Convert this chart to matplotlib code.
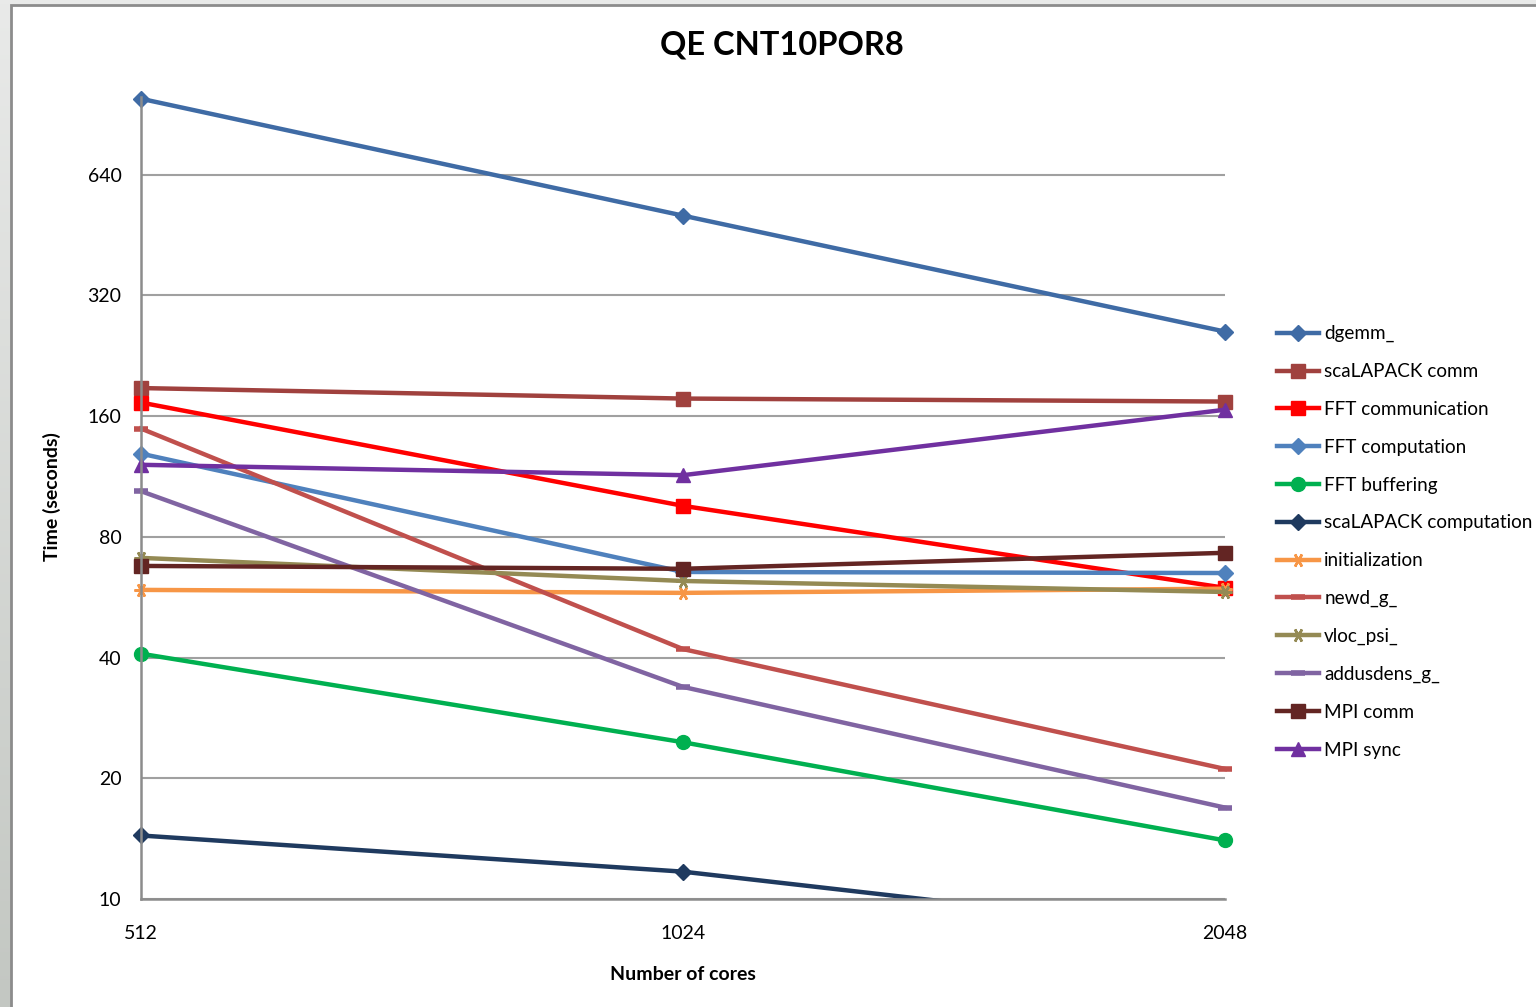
import matplotlib
matplotlib.use("Agg")
import matplotlib.pyplot as plt
import numpy as np
from matplotlib.patches import Rectangle
from matplotlib.ticker import FixedLocator, NullLocator
from matplotlib.colors import LinearSegmentedColormap

plt.rcParams['font.family'] = ['Lato', 'DejaVu Sans']

cores = [512, 1024, 2048]
series_names = ["dgemm_", "scaLAPACK comm", "FFT communication", "FFT computation",
                "FFT buffering", "scaLAPACK computation", "initialization", "newd_g_",
                "vloc_psi_", "addusdens_g_", "MPI comm", "MPI sync"]
dgemm = [990, 506, 260]
scalapack_comm = [188, 177, 174]
fft_comm = [173, 95.6, 59.7]
fft_comp = [129, 65.4, 65.0]
fft_buf = [40.9, 24.6, 14.0]
scalapack_comp = [14.4, 11.7, 8.2]
initialization = [59.0, 58.0, 59.4]
newd_g = [149, 42.0, 21.1]
vloc_psi = [70.9, 62.1, 58.3]
addusdens_g = [104, 33.8, 16.9]
mpi_comm = [67.7, 66.6, 73.0]
mpi_sync = [121, 114, 166]
yticks = [10, 20, 40, 80, 160, 320, 640]

values = [dgemm, scalapack_comm, fft_comm, fft_comp, fft_buf, scalapack_comp,
          initialization, newd_g, vloc_psi, addusdens_g, mpi_comm, mpi_sync]
colors = ["#3F6BA5", "#A0413E", "#FF0000", "#4F81BD", "#00B050", "#1F3A5F",
          "#F79646", "#C0504D", "#948A54", "#8064A2", "#632523", "#7030A0"]
star = (6, 2, 90)
markers = ["D", "s", "s", "D", "o", "D", star, "_", star, "_", "s", "^"]
msizes = [8, 10, 10, 8, 10, 8, 10, 10, 10, 10, 10, 10]

W, H = 1536, 1007
fig = plt.figure(figsize=(W / 100, H / 100), dpi=100)

# background gradient + white chart area
bg = fig.add_axes([0, 0, 1, 1], zorder=-5)
grad = np.linspace(0, 1, 256).reshape(-1, 1)
cm = LinearSegmentedColormap.from_list("g", ["#E9EAE9", "#C3C7C2"])
bg.imshow(grad, aspect='auto', cmap=cm, extent=[0, 1, 0, 1], origin='upper')
bg.add_patch(Rectangle((11 / W, -0.01), 1.05, 1 - 5 / H + 0.01, facecolor='white',
                       edgecolor='#8C8C8C', linewidth=2))
bg.set_xlim(0, 1)
bg.set_ylim(0, 1)
bg.axis('off')

left, right = 141 / W, 1225 / W
bottom, top = 1 - 899 / H, 1 - 97 / H
ax = fig.add_axes([left, bottom, right - left, top - bottom])
ax.set_facecolor('none')

clip = Rectangle((-0.1, 0), 1.2, 1.2, transform=ax.transAxes, visible=False)
ax.add_patch(clip)

for name, vals, c, m, ms in zip(series_names, values, colors, markers, msizes):
    mew = 4 if m == "_" else (1.8 if m == star else 1)
    ln, = ax.plot(cores, vals, color=c, lw=3.2, marker=m, markersize=ms,
                  markerfacecolor=c, markeredgecolor=c, markeredgewidth=mew, label=name)
    ln.set_clip_path(clip)

ax.set_xscale('log', base=2)
ax.set_yscale('log', base=2)
ax.set_xlim(512, 2048)
ax.set_ylim(10, 1000)
ax.xaxis.set_major_locator(FixedLocator(cores))
ax.xaxis.set_minor_locator(NullLocator())
ax.set_xticklabels([str(c) for c in cores])
ax.yaxis.set_major_locator(FixedLocator(yticks))
ax.yaxis.set_minor_locator(NullLocator())
ax.set_yticklabels([str(t) for t in yticks])
ax.tick_params(axis='both', length=0, labelsize=14, colors='black')
ax.tick_params(axis='x', pad=19)
ax.tick_params(axis='y', pad=14)
ax.grid(axis='y', color='#A0A0A0', lw=1.5)
ax.grid(axis='x', visible=False)
ax.set_axisbelow(True)
for s in ['top', 'right']:
    ax.spines[s].set_visible(False)
for s in ['left', 'bottom']:
    ax.spines[s].set_color('#8C8C8C')
    ax.spines[s].set_linewidth(1.8)

fig.text(782 / W, 1 - 45 / H, "QE CNT10POR8", ha='center', va='center',
         fontsize=23.5, fontweight='bold')
fig.text(683 / W, 1 - 975 / H, "Number of cores", ha='center', va='center',
         fontsize=14, fontweight='bold')
fig.text(52 / W, 1 - 497 / H, "Time (seconds)", ha='center', va='center',
         rotation=90, fontsize=14, fontweight='bold')

fig.legend(loc='center left', bbox_to_anchor=(1277 / W, 1 - 542 / H),
           frameon=False, fontsize=13.6, handlelength=2.2, handletextpad=0.3,
           labelspacing=1.1, borderpad=0, borderaxespad=0)

fig.savefig("out.png", dpi=100)
